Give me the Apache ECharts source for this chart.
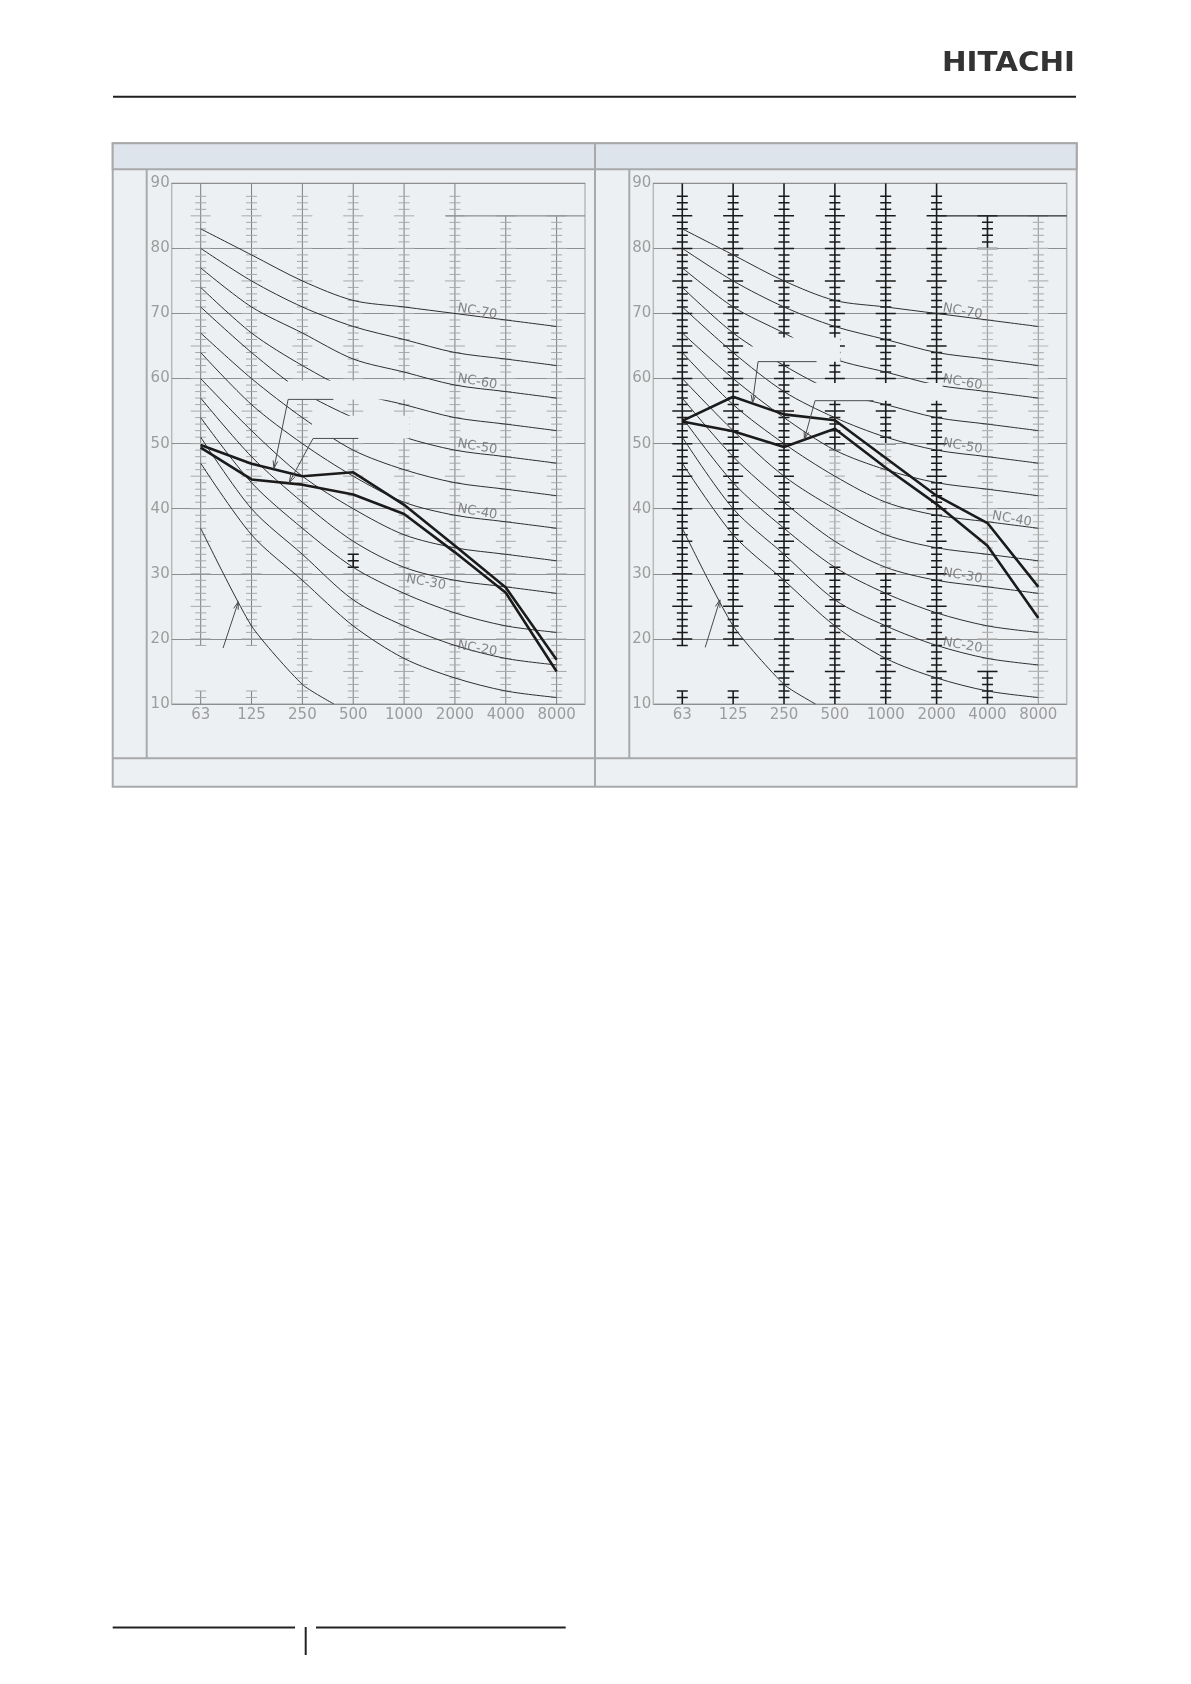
<!DOCTYPE html>
<html><head><meta charset="utf-8">
<script src="https://cdn.jsdelivr.net/npm/echarts@6/dist/echarts.min.js"></script>
<style>html,body{margin:0;padding:0;background:#fff}#c{width:1191px;height:1684px}</style>
</head><body><div id="c"></div>
<script>
// ---------------- DATA ----------------
const categories = ['63', '125', '250', '500', '1000', '2000', '4000', '8000'];
const yMin = 10, yMax = 90, yStep = 10;

// NC reference curves (dB per octave band)
const nc15 = [47, 36, 29, 22, 17, 14, 12, 11];
const nc20 = [51, 40, 33, 26, 22, 19, 17, 16];
const nc25 = [54, 44, 37, 31, 27, 24, 22, 21];
const nc30 = [57, 48, 41, 35, 31, 29, 28, 27];
const nc35 = [60, 52, 45, 40, 36, 34, 33, 32];
const nc40 = [64, 56, 50, 45, 41, 39, 38, 37];
const nc45 = [67, 60, 54, 49, 46, 44, 43, 42];
const nc50 = [71, 64, 58, 54, 51, 49, 48, 47];
const nc55 = [74, 67, 62, 58, 56, 54, 53, 52];
const nc60 = [77, 71, 67, 63, 61, 59, 58, 57];
const nc65 = [80, 75, 71, 68, 66, 64, 63, 62];
const nc70 = [83, 79, 75, 72, 71, 70, 69, 68];
// approximate threshold of hearing curve ([band index, dB])
const threshold = [[0, 37], [1, 22], [2, 13], [2.62, 10]];

// measured sound pressure levels
const leftUpper  = [49.8, 46.9, 45.0, 45.6, 40.6, 34.3, 27.9, 16.8];
const leftLower  = [49.4, 44.5, 43.7, 42.2, 39.2, 33.3, 27.1, 15.0];
const rightUpper = [53.5, 57.2, 54.5, 53.6, 47.8, 42.0, 37.8, 28.0];
const rightLower = [53.4, 51.9, 49.5, 52.3, 46.3, 40.7, 34.3, 23.2];

// NC curve labels [band index, dB, text]
const leftNcLabels  = [[5.44, 70.3, 'NC-70'], [5.44, 59.5, 'NC-60'], [5.44, 49.5, 'NC-50'], [5.44, 39.5, 'NC-40'], [4.43, 28.7, 'NC-30'], [5.44, 18.5, 'NC-20']];
const rightNcLabels = [[5.51, 70.3, 'NC-70'], [5.51, 59.4, 'NC-60'], [5.51, 49.6, 'NC-50'], [6.48, 38.4, 'NC-40'], [5.51, 29.7, 'NC-30'], [5.51, 19.0, 'NC-20']];

// octave-band rulers [band index, from dB, to dB]
const leftRulers = [[0, 19, 90], [0, 10, 12], [1, 19, 90], [1, 10, 12], [2, 10, 90], [3, 10, 90], [3, 31, 33],
                    [4, 10, 90], [5, 10, 90], [6, 10, 85], [7, 10, 85]];
const rightRulers = [[0, 19, 90], [0, 10, 12], [1, 19, 90], [1, 10, 12], [2, 10, 90],
                     [3, 49, 90], [3, 31, 49], [3, 10, 31], [4, 50, 90], [4, 30, 50], [4, 10, 30],
                     [5, 10, 90], [6, 80, 85], [6, 15, 80], [6, 10, 15], [7, 10, 85]];
// upper step line at 85 dB [band index from, dB]
const leftStep = [[4.82, 85]];
const rightStep = [[5.03, 85]];

// blanked label areas [[i1, dB1], [i2, dB2]]
const leftBlanks  = [[[1.71, 56.8], [4.2, 59.7]], [[2.19, 50.8], [4.1, 54.3]]];
const rightBlanks = [[[1.38, 62.6], [3.1, 66.3]], [[2.61, 56.6], [5.12, 59.3]]];

// leader lines: [start, corner, tip] in [band index, dB]
const leftLeaders  = [[[2.61, 56.8], [1.72, 56.8], [1.44, 46.2]],
                      [[3.10, 50.8], [2.21, 50.8], [1.74, 44.0]],
                      [[0.44, 18.6], [0.44, 18.6], [0.74, 25.7]]];
const rightLeaders = [[[2.64, 62.6], [1.49, 62.6], [1.38, 56.3]],
                      [[3.76, 56.6], [2.61, 56.6], [2.40, 50.7]],
                      [[0.45, 18.7], [0.45, 18.7], [0.74, 26.0]]];

// ---------------- STYLE ----------------
const XMIN = -0.57, XMAX = 7.558;
const FONT = 'DejaVu Sans';
const BODY = '#edf0f3', HEAD = '#dde4ec', FRAME = '#a9a9a9';
const leftTones  = ['light', 'light', 'light', 'light', 'light', 'light', 'dark', 'light', 'light', 'light', 'light'];
const rightTones = ['dark', 'dark', 'dark', 'dark', 'dark',
                    'dark', 'faded', 'dark', 'dark', 'faded', 'dark',
                    'dark', 'dark', 'faded', 'dark', 'faded'];
const TONE = {
  light: {line: '#7d7d7d', lw: 1, tick: '#a8a8a8', tw: 1},
  dark:  {line: '#1a1a1a', lw: 1.6, tick: '#1a1a1a', tw: 1.5},
  faded: {line: '#a0a0a0', lw: 1.2, tick: '#b4b4b4', tw: 1.2}
};

const ncAll = [nc15, nc20, nc25, nc30, nc35, nc40, nc45, nc50, nc55, nc60, nc65, nc70];
const idx = arr => arr.map((v, i) => [i, v]);

function rulerSeries(g, rulers, tones) {
  return {
    type: 'custom', xAxisIndex: g, yAxisIndex: g, z: 2, silent: true, clip: true,
    data: rulers.map((r, k) => [r[0], r[1], r[2], k]),
    encode: {x: 0, y: [1, 2]},
    renderItem: function (params, api) {
      const i = api.value(0), lo = api.value(1), hi = api.value(2), k = api.value(3);
      const t = TONE[tones[k]];
      const a = api.coord([i, hi]), b = api.coord([i, lo]);
      const ch = [{type: 'line', shape: {x1: a[0], y1: a[1], x2: b[0], y2: b[1]}, style: {stroke: t.line, lineWidth: t.lw}}];
      for (let v = Math.max(11, Math.ceil(lo)); v <= Math.min(hi, 88); v++) {
        const p = api.coord([i, v]);
        const h = v % 5 === 0 ? 10 : 5.5;
        ch.push({type: 'line', shape: {x1: p[0] - h, y1: p[1], x2: p[0] + h, y2: p[1]}, style: {stroke: t.tick, lineWidth: t.tw}});
      }
      return {type: 'group', children: ch};
    }
  };
}
function blankSeries(g, boxes) {
  return {
    type: 'custom', xAxisIndex: g, yAxisIndex: g, z: 3, silent: true,
    data: boxes.map(b => [b[0][0], b[0][1], b[1][0], b[1][1]]),
    encode: {x: [0, 2], y: [1, 3]},
    renderItem: function (params, api) {
      const p1 = api.coord([api.value(0), api.value(3)]);
      const p2 = api.coord([api.value(2), api.value(1)]);
      return {type: 'rect', shape: {x: p1[0], y: p1[1], width: p2[0] - p1[0], height: p2[1] - p1[1]}, style: {fill: BODY}};
    }
  };
}
function leaderSeries(g, leaders) {
  return {
    type: 'custom', xAxisIndex: g, yAxisIndex: g, z: 6, silent: true,
    data: leaders.map(l => [l[0][0], l[0][1], l[1][0], l[1][1], l[2][0], l[2][1]]),
    encode: {x: [0, 2, 4], y: [1, 3, 5]},
    renderItem: function (params, api) {
      const p0 = api.coord([api.value(0), api.value(1)]);
      const p1 = api.coord([api.value(2), api.value(3)]);
      const p2 = api.coord([api.value(4), api.value(5)]);
      const ang = Math.atan2(p2[1] - p1[1], p2[0] - p1[0]);
      const L = 8, w = 0.3;
      const h1 = [p2[0] - L * Math.cos(ang - w), p2[1] - L * Math.sin(ang - w)];
      const h2 = [p2[0] - L * Math.cos(ang + w), p2[1] - L * Math.sin(ang + w)];
      const st = {stroke: '#4a4a4a', lineWidth: 1, fill: null};
      return {type: 'group', children: [
        {type: 'polyline', shape: {points: [p0, p1, p2]}, style: st},
        {type: 'polyline', shape: {points: [h1, p2, h2]}, style: st}
      ]};
    }
  };
}
function chartSeries(g, upper, lower, labels, rulers, tones, step, blanks, leaders, stepColor) {
  const s = [];
  s.push(rulerSeries(g, rulers, tones));
  ncAll.forEach(c => s.push({type: 'line', xAxisIndex: g, yAxisIndex: g, data: idx(c), smooth: 0.3, symbol: 'none', silent: true, z: 2,
    lineStyle: {color: '#2e2e2e', width: 1}}));
  s.push({type: 'line', xAxisIndex: g, yAxisIndex: g, data: threshold, smooth: 0.2, symbol: 'none', silent: true, z: 2,
    lineStyle: {color: '#2e2e2e', width: 1}});
  s.push({type: 'line', xAxisIndex: g, yAxisIndex: g, data: [step[0], [XMAX, step[0][1]]], symbol: 'none', silent: true, z: 2,
    lineStyle: {color: stepColor, width: 1.2}});
  s.push(blankSeries(g, blanks));
  [upper, lower].forEach(d => s.push({type: 'line', xAxisIndex: g, yAxisIndex: g, data: idx(d), symbol: 'none', silent: true, z: 5,
    lineStyle: {color: '#1b1b1b', width: 2.6}}));
  s.push(leaderSeries(g, leaders));
  s.push({type: 'scatter', xAxisIndex: g, yAxisIndex: g, z: 6, silent: true, symbolSize: 1, itemStyle: {color: 'rgba(0,0,0,0)'},
    data: labels.map(l => ({value: [l[0], l[1]], name: l[2]})),
    label: {show: true, position: 'inside', formatter: p => p.name, rotate: -10, color: '#6a6a6a',
      fontFamily: FONT, fontSize: 13}});
  return s;
}

const axisLabelStyle = {color: '#9c9c9c', fontFamily: FONT, fontSize: 15};
function xAx(g) {
  return {type: 'value', gridIndex: g, min: XMIN, max: XMAX,
    axisLine: {show: false}, axisTick: {show: false}, splitLine: {show: false},
    axisLabel: Object.assign({customValues: [0, 1, 2, 3, 4, 5, 6, 7], formatter: v => categories[Math.round(v)] || '', margin: 4}, axisLabelStyle)};
}
function yAx(g) {
  return {type: 'value', gridIndex: g, min: yMin, max: yMax, interval: yStep,
    axisLine: {show: false}, axisTick: {show: false},
    splitLine: {lineStyle: {color: '#8e8e8e', width: 1}},
    axisLabel: Object.assign({margin: 2}, axisLabelStyle)};
}

const graphic = [
  {type: 'line', z: -5, shape: {x1: 113, y1: 96.7, x2: 1076, y2: 96.7}, style: {stroke: '#1e1e1e', lineWidth: 2}},
  {type: 'text', z: -5, x: 1075, y: 64, scaleX: 1.13, originX: 0, originY: 0,
    style: {text: 'HITACHI', font: 'bold 26px "DejaVu Sans"', fill: '#333333', align: 'right', verticalAlign: 'middle'}},
  {type: 'rect', z: -5, shape: {x: 112.7, y: 143.3, width: 964, height: 643.4}, style: {fill: BODY, stroke: FRAME, lineWidth: 2}},
  {type: 'rect', z: -5, shape: {x: 112.7, y: 143.3, width: 964, height: 26}, style: {fill: HEAD, stroke: FRAME, lineWidth: 2}},
  {type: 'line', z: -5, shape: {x1: 595, y1: 143.3, x2: 595, y2: 786.7}, style: {stroke: FRAME, lineWidth: 2}},
  {type: 'line', z: -5, shape: {x1: 146.7, y1: 169.3, x2: 146.7, y2: 758.3}, style: {stroke: FRAME, lineWidth: 2}},
  {type: 'line', z: -5, shape: {x1: 629.3, y1: 169.3, x2: 629.3, y2: 758.3}, style: {stroke: FRAME, lineWidth: 2}},
  {type: 'line', z: -5, shape: {x1: 112.7, y1: 758.3, x2: 1076.7, y2: 758.3}, style: {stroke: FRAME, lineWidth: 2}},
  {type: 'line', z: -5, shape: {x1: 112.7, y1: 1627.5, x2: 295, y2: 1627.5}, style: {stroke: '#222', lineWidth: 2}},
  {type: 'line', z: -5, shape: {x1: 305.7, y1: 1627, x2: 305.7, y2: 1655}, style: {stroke: '#222', lineWidth: 2}},
  {type: 'line', z: -5, shape: {x1: 316, y1: 1627.5, x2: 565.7, y2: 1627.5}, style: {stroke: '#222', lineWidth: 2}}
];

const chart = echarts.init(document.getElementById('c'), null, {renderer: 'canvas'});
chart.setOption({
  backgroundColor: '#ffffff',
  animation: false,
  graphic: graphic,
  grid: [
    {left: 171.7, top: 183.3, width: 413.3, height: 520.7, show: true, borderColor: '#b9b9b9', borderWidth: 1.5, backgroundColor: 'transparent', containLabel: false},
    {left: 653.3, top: 183.3, width: 413.4, height: 520.7, show: true, borderColor: '#b9b9b9', borderWidth: 1.5, backgroundColor: 'transparent', containLabel: false}
  ],
  xAxis: [xAx(0), xAx(1)],
  yAxis: [yAx(0), yAx(1)],
  series: [].concat(
    chartSeries(0, leftUpper, leftLower, leftNcLabels, leftRulers, leftTones, leftStep, leftBlanks, leftLeaders, '#8e8e8e'),
    chartSeries(1, rightUpper, rightLower, rightNcLabels, rightRulers, rightTones, rightStep, rightBlanks, rightLeaders, '#2a2a2a')
  )
});
</script>
</body></html>
